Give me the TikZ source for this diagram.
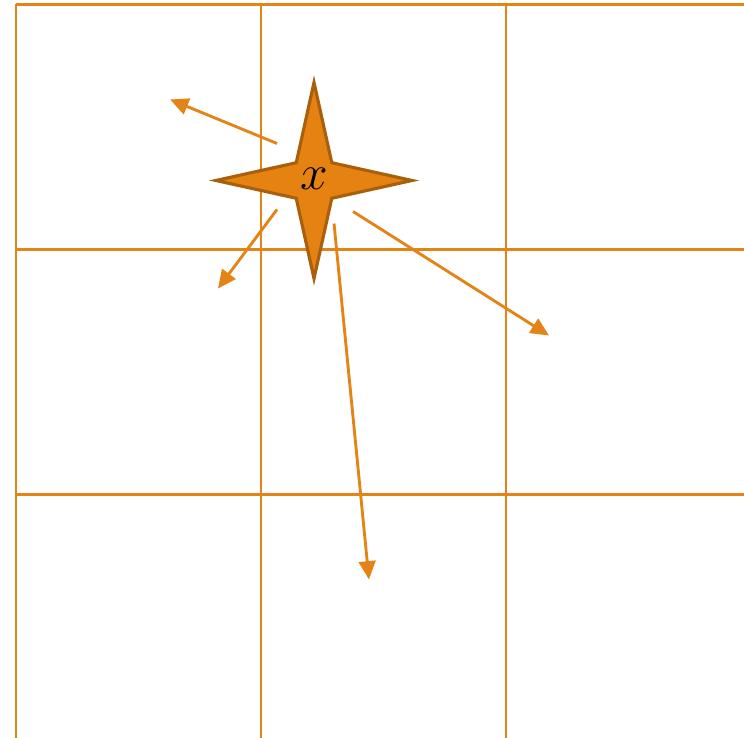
\documentclass[tikz,border=0pt]{standalone}
\usetikzlibrary{shapes.geometric, arrows.meta}

\definecolor{gridorange}{RGB}{228,131,22}
\definecolor{starfill}{RGB}{230,130,18}
\definecolor{staredge}{RGB}{168,96,12}

\begin{document}
\begin{tikzpicture}[
        gridline/.style={draw=gridorange, line width=1pt},
        ray/.style={draw=gridorange, line width=1pt, -{Triangle[length=6.4pt,width=5.8pt]}},
        spark/.style={
            star, star points=4, star point ratio=3.9,
            minimum size=2.4cm, inner sep=0pt,
            fill=starfill, draw=staredge, line width=1.1pt
        }
    ]

        \useasboundingbox (-0.196,0.03) rectangle (8.914,9.055);
        \clip (-0.196,0.03) rectangle (8.914,9.055);

        % The 3x3 grid of cells
        \draw[gridline] (0,-1) grid[step=3] (10,9);

        % The point x
        \node[spark] (x) at (3.649,6.845) {};
        \node[inner sep=0pt] (xlabel) at (3.649,6.87) {\fontsize{19}{19}\selectfont $x$};

        % Start and end of each ray
        \coordinate (s1) at (3.196,7.298);
        \coordinate (s2) at (3.196,6.490);
        \coordinate (s3) at (4.127,6.465);
        \coordinate (s4) at (3.894,6.318);
        \coordinate (e1) at (1.886,7.837);
        \coordinate (e2) at (2.473,5.522);
        \coordinate (e3) at (6.527,4.947);
        \coordinate (e4) at (4.322,1.959);

        % Rays
        \draw[ray] (s1) -- (e1);
        \draw[ray] (s2) -- (e2);
        \draw[ray] (s3) -- (e3);
        \draw[ray] (s4) -- (e4);

    \end{tikzpicture}
\end{document}
